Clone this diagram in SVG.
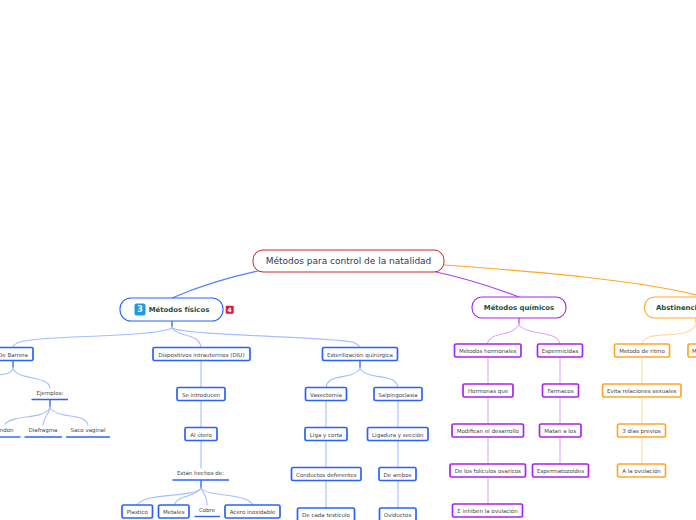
<svg xmlns="http://www.w3.org/2000/svg" width="696" height="520" viewBox="0 0 696 520">
<style>
text{font-family:"DejaVu Sans",Verdana,sans-serif;text-anchor:middle;dominant-baseline:central;font-size:5.5px;fill:#444}
.b rect{fill:#fff;stroke-width:1.7;rx:1.5px}
.bl rect{stroke:#2962ff}.pu rect{stroke:#aa22ee}.or rect{stroke:#ffa726}
.m rect{fill:#fff;stroke-width:1.1}
.m text{font-size:6.9px;font-weight:bold;fill:#174d3c}
.u path{fill:none;stroke:#2962ff;stroke-width:1.4}
#connectors path{fill:none;stroke-linecap:round}
.cb{stroke:#a6bdff;stroke-width:1.1}.cp{stroke:#e0a8fa;stroke-width:1.1}.co{stroke:#ffd9a0;stroke-width:1.1}
</style>
<rect width="696" height="520" fill="#fff"/>
<g id="connectors">
<path d="M258 271C225 278 200 286 172 298" stroke="#4d7cff" stroke-width="1.2"/>
<path d="M436 272C465 278 490 286 519 297" stroke="#aa44ee" stroke-width="1.2"/>
<path d="M444 265C540 272 640 280 705 297" stroke="#ffa726" stroke-width="1.2"/>
<path class="cb" d="M172 321V328C150 338 40 335 20 342Q14 344 13 347"/>
<path class="cb" d="M172 321V328C178 338 198 332 201 347"/>
<path class="cb" d="M172 321V328C190 336 320 336 352 342Q358 344 360 347"/>
<path class="cb" d="M13 361V369C10 374 5 374 -2 375"/>
<path class="cb" d="M13 361V369C20 381 48 375 50 388"/>
<path class="cb" d="M50 400V408C42 420 15 414 5 424"/>
<path class="cb" d="M50 400V408C48 416 44 416 43 425"/>
<path class="cb" d="M50 400V408C60 420 85 412 88 425"/>
<path class="cb" d="M201 361V388M201 401V428M201 441V468"/>
<path class="cb" d="M201 481V488C195 498 145 492 137 505"/>
<path class="cb" d="M201 481V488C195 498 178 494 174 505"/>
<path class="cb" d="M201 481V488C204 494 207 496 207 505"/>
<path class="cb" d="M201 481V488C210 498 245 492 253 505"/>
<path class="cb" d="M360 361V369C350 381 328 372 326 388"/>
<path class="cb" d="M360 361V369C370 381 396 372 398 388"/>
<path class="cb" d="M326 401V428M326 441V468M326 481V508"/>
<path class="cb" d="M398 401V428M398 441V468M398 481V508"/>
<path class="cp" d="M519 318V325C510 338 492 330 487 344"/>
<path class="cp" d="M519 318V325C528 336 558 330 560 344"/>
<path class="cp" d="M488 357V384M488 397V424M488 437V464M488 477V504"/>
<path class="cp" d="M560 357V384M560 397V424M560 437V464"/>
<path class="co" d="M696 325C685 342 645 328 642 344"/>
<path class="co" d="M696 325C698 336 708 338 712 344"/>
<path class="co" d="M642 357V384M642 397V424M642 437V464"/>
<path d="M172 321V326M13 361V367M50 400V406M201 481V487M360 361V367" stroke="#5f86ff" stroke-width="1.4"/>
<path d="M519 318V323" stroke="#c57af5" stroke-width="1.4"/>
<path d="M696 318V323" stroke="#ffc26b" stroke-width="1.4"/>
</g>
<g id="root"><rect x="253" y="250" width="191" height="22" rx="10" fill="#fff" stroke="#c62828" stroke-width="1"/><text x="348.500" y="261" style="font-size:9px;fill:#1f3a5f">Métodos para control de la natalidad</text></g>
<g id="fisicos" class="m"><rect x="120" y="298" width="103" height="23" rx="11" stroke="#2962ff"/><rect x="134.500" y="303.500" width="11" height="12" rx="2" style="fill:#1e9be8;stroke:none"/><text x="140" y="309.500" style="fill:#fff;font-size:8px">3</text><text x="179" y="309.500">Métodos físicos</text><rect x="225.700" y="305.800" width="8" height="8" rx="1" style="fill:#d81b45;stroke:none"/><text x="229.700" y="309.800" style="fill:#fff;font-size:6px">4</text></g>
<g id="quimicos" class="m"><rect x="472" y="297" width="94" height="21" rx="10" stroke="#aa22ee"/><text x="519" y="307.500">Métodos químicos</text></g>
<g id="abstinencia" class="m"><rect x="644.500" y="297" width="100" height="21" rx="10" stroke="#ffa726"/><text x="656" y="307.500" style="text-anchor:start">Abstinencia</text></g>

<g id="barrera" class="b bl"><rect x="-8" y="347.500" width="41" height="13"/><text x="13" y="354.500">De Barrera</text></g>
<g id="diu" class="b bl"><rect x="153" y="347.500" width="97" height="13"/><text x="201.500" y="354.500">Dispositivos intrauterinos (DIU)</text></g>
<g id="esterilizacion" class="b bl"><rect x="322.500" y="347.500" width="75" height="13"/><text x="360" y="354.500">Esterilización quirúrgica</text></g>
<g id="ejemplos" class="u"><text x="50" y="393">Ejemplos:</text><path d="M31.500 399.500H68"/></g>
<g id="condon" class="u"><text x="3" y="430">Condon</text><path d="M-10 437H20.500"/></g>
<g id="diafragma" class="u"><text x="43" y="430">Diafragma</text><path d="M24.500 437H62"/></g>
<g id="saco" class="u"><text x="88" y="430">Saco vaginal</text><path d="M66 437H110"/></g>
<g id="introducen" class="b bl"><rect x="177" y="387.500" width="48" height="13"/><text x="201" y="394.500">Se introducen</text></g>
<g id="utero" class="b bl"><rect x="185" y="427.500" width="32" height="13"/><text x="201" y="434.500">Al útero</text></g>
<g id="hechos" class="u"><text x="200.500" y="473">Están hechos de:</text><path d="M172.500 480H229"/></g>
<g id="plastico" class="b bl"><rect x="122" y="505" width="30.500" height="13"/><text x="137.300" y="512">Plastico</text></g>
<g id="metales" class="b bl"><rect x="158.500" y="505" width="30.500" height="13"/><text x="173.800" y="512">Metales</text></g>
<g id="cobre" class="u"><text x="207" y="510">Cobre</text><path d="M194.500 516.500H220"/></g>
<g id="acero" class="b bl"><rect x="225" y="505" width="55" height="13"/><text x="252.500" y="512">Acero inoxidable</text></g>
<g id="vasectomia" class="b bl"><rect x="305.500" y="387.500" width="41" height="13"/><text x="326" y="394.500">Vasectomía</text></g>
<g id="salpingo" class="b bl"><rect x="374" y="387.500" width="48" height="13"/><text x="398" y="394.500">Salpingoclasia</text></g>
<g id="liga" class="b bl"><rect x="305" y="427.500" width="42" height="13"/><text x="326" y="434.500">Liga y corta</text></g>
<g id="ligadura" class="b bl"><rect x="367.500" y="427.500" width="60.500" height="13"/><text x="397.800" y="434.500">Ligadura y sección</text></g>
<g id="conductos" class="b bl"><rect x="291.500" y="467.500" width="69.500" height="13"/><text x="326.300" y="474.500">Conductos deferentes</text></g>
<g id="ambos" class="b bl"><rect x="379" y="467.500" width="37" height="13"/><text x="397.500" y="474.500">De ambos</text></g>
<g id="testiculo" class="b bl"><rect x="297.500" y="508" width="57" height="13"/><text x="326" y="515">De cada testículo</text></g>
<g id="oviductos" class="b bl"><rect x="379.500" y="508" width="36.500" height="13"/><text x="397.500" y="515">Oviductos</text></g>

<g id="hormonales" class="b pu"><rect x="454.500" y="344" width="66.500" height="13"/><text x="487.700" y="351">Métodos hormonales</text></g>
<g id="espermicidas" class="b pu"><rect x="537.500" y="344" width="45" height="13"/><text x="560" y="351">Espermicidas</text></g>
<g id="hormonas" class="b pu"><rect x="463" y="384" width="50" height="13"/><text x="488" y="391">Hormonas que</text></g>
<g id="farmacos" class="b pu"><rect x="542.500" y="384" width="36" height="13"/><text x="560.500" y="391">Farmacos</text></g>
<g id="modifican" class="b pu"><rect x="452" y="424" width="71.500" height="13"/><text x="487.800" y="431">Modifican el desarrollo</text></g>
<g id="matan" class="b pu"><rect x="539.500" y="424" width="41.500" height="13"/><text x="560.200" y="431">Matan a los</text></g>
<g id="foliculos" class="b pu"><rect x="450" y="464" width="75.500" height="13"/><text x="487.800" y="471">De los folículos ovaricos</text></g>
<g id="espermatozoides" class="b pu"><rect x="532.500" y="464" width="56" height="13"/><text x="560.500" y="471">Espermatozoides</text></g>
<g id="inhiben" class="b pu"><rect x="452.500" y="504" width="70" height="13"/><text x="487.500" y="511">E inhiben la ovulación</text></g>

<g id="ritmo" class="b or"><rect x="614.500" y="344" width="55" height="13"/><text x="642" y="351">Metodo de ritmo</text></g>
<g id="metodo2" class="b or"><rect x="688" y="344" width="40" height="13"/><text x="692" y="351" style="text-anchor:start">M</text></g>
<g id="evita" class="b or"><rect x="602.500" y="384" width="78.500" height="13"/><text x="641.700" y="391">Evita relaciones sexuales</text></g>
<g id="previos" class="b or"><rect x="617.500" y="424" width="48" height="13"/><text x="641.500" y="431">3 días previos</text></g>
<g id="ovulacion" class="b or"><rect x="617.500" y="464" width="48" height="13"/><text x="641.500" y="471">A la ovulación</text></g>
</svg>
